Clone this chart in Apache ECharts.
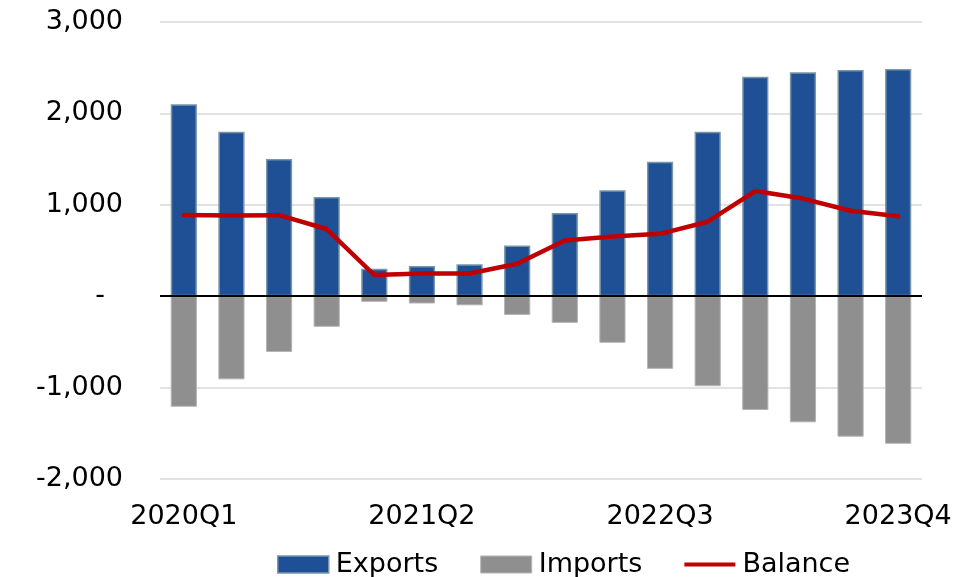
<!DOCTYPE html>
<html>
<head>
<meta charset="utf-8">
<script src="https://cdn.jsdelivr.net/npm/echarts@6/dist/echarts.min.js"></script>
<style>
html,body{margin:0;padding:0;background:#fff;}
#chart{width:965px;height:577px;}
</style>
</head>
<body>
<div id="chart"></div>
<script>
const categories = ['2020Q1','2020Q2','2020Q3','2020Q4','2021Q1','2021Q2','2021Q3','2021Q4',
                    '2022Q1','2022Q2','2022Q3','2022Q4','2023Q1','2023Q2','2023Q3','2023Q4'];
const exportsData = [2100, 1800, 1500, 1085, 300, 330, 350, 555, 910, 1160, 1470, 1800, 2400, 2450, 2475, 2485];
const importsData = [-1210, -910, -610, -335, -62, -80, -100, -205, -292, -510, -795, -985, -1245, -1380, -1537, -1615];
const balanceData = [889, 882, 887, 735, 232, 248, 248, 355, 610, 653, 682, 815, 1150, 1068, 935, 875];
const yTicks = {min: -2000, max: 3000, step: 1000};

const FONT = 'DejaVu Sans';
const chart = echarts.init(document.getElementById('chart'), null, {renderer: 'canvas'});
chart.setOption({
  animation: false,
  backgroundColor: '#ffffff',
  textStyle: {fontFamily: FONT, color: '#000'},
  grid: {left: 160, right: 43, top: 22, bottom: 98, containLabel: false},
  legend: {
    left: 272, top: 546,
    itemWidth: 51, itemHeight: 17, itemGap: 42,
    textStyle: {fontFamily: FONT, fontSize: 27, color: '#000', padding: [0, 0, 0, 2]},
    data: [
      {name: 'Exports', icon: 'rect', itemStyle: {color: '#1f5096', borderColor: '#7896a8', borderWidth: 1.5}},
      {name: 'Imports', icon: 'rect', itemStyle: {color: '#8f8f8f', borderColor: '#b5b5b5', borderWidth: 1}},
      {name: 'Balance', icon: 'path://M0,0 L110,0 L110,9 L0,9 Z', itemStyle: {color: '#c00000', borderWidth: 0}}
    ]
  },
  xAxis: {
    type: 'category',
    data: categories,
    axisLine: {show: false, onZero: false},
    axisTick: {show: false},
    axisLabel: {interval: 4, fontFamily: FONT, fontSize: 27, color: '#000', margin: 24}
  },
  yAxis: {
    type: 'value',
    min: yTicks.min, max: yTicks.max, interval: yTicks.step,
    axisLine: {show: false},
    axisTick: {show: false},
    splitLine: {lineStyle: {color: '#d9d9d9', width: 1.5}},
    axisLabel: {
      fontFamily: FONT, fontSize: 27, color: '#000', margin: 37,
      formatter: function (v) {
        if (v === 0) return '{z|-}';
        return v.toLocaleString('en-US');
      },
      rich: {z: {fontFamily: FONT, fontSize: 27, color: '#000', padding: [0, 18, 0, 0]}}
    }
  },
  series: [
    {
      name: 'Exports', type: 'bar', data: exportsData,
      barWidth: '55%', barGap: '-100%',
      itemStyle: {color: '#1f5096', borderColor: '#7896a8', borderWidth: 1.5}
    },
    {
      name: 'Imports', type: 'bar', data: importsData,
      barWidth: '55%',
      itemStyle: {color: '#8f8f8f', borderColor: '#b5b5b5', borderWidth: 1},
      markLine: {
        silent: true, symbol: ['none', 'none'],
        label: {show: false},
        lineStyle: {color: '#000', width: 2, type: 'solid'},
        data: [{yAxis: 0}],
        z: 5
      }
    },
    {
      name: 'Balance', type: 'line', data: balanceData,
      symbol: 'none', z: 10,
      lineStyle: {color: '#c00000', width: 4.5, cap: 'round', join: 'round'},
      itemStyle: {color: '#c00000'}
    }
  ]
});
</script>
</body>
</html>
